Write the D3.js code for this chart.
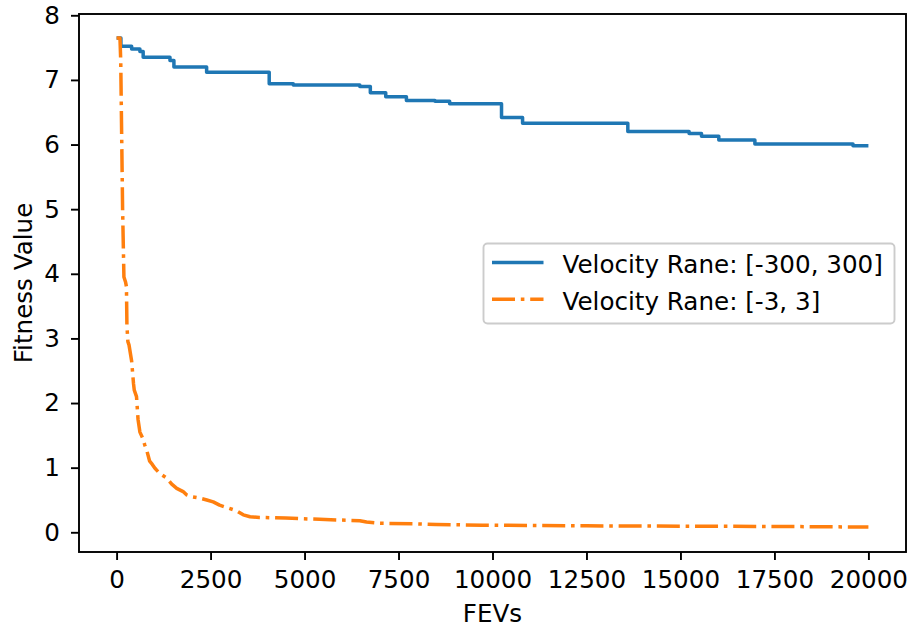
<!DOCTYPE html>
<html>
<head>
<meta charset="utf-8">
<script src="https://cdn.jsdelivr.net/npm/d3@7"></script>
<style>
  body { margin: 0; background: #fff; }
  svg { font-family: "DejaVu Sans", sans-serif; }
</style>
</head>
<body>
<div id="chart"></div>
<script>
// best-so-far fitness, wide velocity range (step changes: [FEVs, value])
const wideFevs = [0, 115, 400, 620, 707, 1420, 1525, 2395, 4060, 4700, 6470, 6750, 7160, 7710, 8470, 8860, 10240, 10800, 13600, 15230, 15560, 16020, 16980, 19590, 20000];
const wideFit  = [7.65, 7.52, 7.48, 7.44, 7.35, 7.30, 7.20, 7.12, 6.94, 6.92, 6.90, 6.80, 6.74, 6.68, 6.67, 6.63, 6.42, 6.33, 6.20, 6.17, 6.13, 6.07, 6.01, 5.98, 5.98];

// narrow velocity range
const narrowFevs = [0, 90, 110, 160, 195, 240, 262, 275, 300, 330, 400, 450, 470, 530, 570, 620, 700, 750, 810, 880, 950, 1020, 1150, 1330, 1460, 1600, 1770, 1860, 2000, 2200, 2400, 2570, 2740, 3000, 3200, 3370, 3550, 3800, 4500, 5400, 6470, 6650, 7000, 7980, 8500, 9740, 12500, 15000, 17500, 19000, 20000];
const narrowFit  = [7.65, 7.65, 7.3, 5.0, 3.95, 3.87, 3.8, 3.2, 2.95, 2.9, 2.65, 2.3, 2.2, 2.1, 1.75, 1.55, 1.45, 1.35, 1.25, 1.1, 1.05, 0.99, 0.91, 0.84, 0.75, 0.68, 0.63, 0.58, 0.55, 0.53, 0.5, 0.47, 0.42, 0.37, 0.33, 0.27, 0.24, 0.23, 0.22, 0.2, 0.18, 0.16, 0.14, 0.13, 0.12, 0.11, 0.10, 0.095, 0.09, 0.085, 0.08];

const seriesNames = ["Velocity Rane: [-300, 300]", "Velocity Rane: [-3, 3]"];
const xTicks = [0, 2500, 5000, 7500, 10000, 12500, 15000, 17500, 20000];
const yTicks = [0, 1, 2, 3, 4, 5, 6, 7, 8];

const width = 909, height = 626;
const margin = { top: 14, right: 3, bottom: 74, left: 79 };
const fontSize = 24.6;

const svg = d3.select("#chart").append("svg")
    .attr("width", width)
    .attr("height", height);

const x = d3.scaleLinear().domain([-1000, 21000]).range([margin.left, width - margin.right]);
const y = d3.scaleLinear().domain([-0.305, 8.02]).range([height - margin.bottom, margin.top]);

// axes
const xAxis = svg.append("g")
    .attr("transform", `translate(0, ${height - margin.bottom})`)
    .call(d3.axisBottom(x).tickValues(xTicks).tickSize(8).tickPadding(10.5).tickFormat(d3.format("d")));

const yAxis = svg.append("g")
    .attr("transform", `translate(${margin.left}, 0)`)
    .call(d3.axisLeft(y).tickValues(yTicks).tickSize(8).tickPadding(11).tickFormat(d3.format("d")));

[xAxis, yAxis].forEach(g => {
    g.select(".domain").remove();
    g.selectAll(".tick line").attr("stroke", "#000").attr("stroke-width", 1.9);
    g.selectAll(".tick text")
        .attr("fill", "#000")
        .style("font-size", fontSize + "px")
        .style("font-family", "DejaVu Sans, sans-serif");
});

// lines
const wideData = wideFevs.map((f, i) => [f, wideFit[i]]);
const narrowData = narrowFevs.map((f, i) => [f, narrowFit[i]]);

const stepLine = d3.line()
    .x(d => x(d[0]))
    .y(d => y(d[1]))
    .curve(d3.curveStepAfter);

const plainLine = d3.line()
    .x(d => x(d[0]))
    .y(d => y(d[1]));

const plot = svg.append("g");

plot.append("path")
    .datum(wideData)
    .attr("d", stepLine)
    .attr("fill", "none")
    .attr("stroke", "#1f77b4")
    .attr("stroke-width", 3.5)
    .attr("stroke-linejoin", "round");

plot.append("path")
    .datum(narrowData)
    .attr("d", plainLine)
    .attr("fill", "none")
    .attr("stroke", "#ff7f0e")
    .attr("stroke-width", 3.5)
    .attr("stroke-linejoin", "round")
    .attr("stroke-dasharray", "23,5.8,3.6,5.8");

// frame
svg.append("rect")
    .attr("x", margin.left)
    .attr("y", margin.top)
    .attr("width", width - margin.left - margin.right)
    .attr("height", height - margin.top - margin.bottom)
    .attr("fill", "none")
    .attr("stroke", "#000")
    .attr("stroke-width", 1.9);

// axis labels
svg.append("text")
    .attr("x", (margin.left + width - margin.right) / 2)
    .attr("y", 621.5)
    .attr("text-anchor", "middle")
    .style("font-size", fontSize + "px")
    .text("FEVs");

svg.append("text")
    .attr("transform", `translate(31.5, ${(margin.top + height - margin.bottom) / 2}) rotate(-90)`)
    .attr("text-anchor", "middle")
    .style("font-size", fontSize + "px")
    .text("Fitness Value");

// legend
const legend = svg.append("g").attr("transform", "translate(483.5, 243.5)");

legend.append("rect")
    .attr("width", 411)
    .attr("height", 80)
    .attr("rx", 4)
    .attr("fill", "#fff")
    .attr("fill-opacity", 0.8)
    .attr("stroke", "#cccccc")
    .attr("stroke-width", 1.9);

const legendItems = [
    { label: seriesNames[0], color: "#1f77b4", dash: null },
    { label: seriesNames[1], color: "#ff7f0e", dash: "23,5.8,3.6,5.8" }
];

legendItems.forEach((item, i) => {
    const g = legend.append("g").attr("transform", `translate(0, ${19 + i * 36.7})`);
    g.append("line")
        .attr("x1", 8.5)
        .attr("x2", 60)
        .attr("stroke", item.color)
        .attr("stroke-width", 3.5)
        .attr("stroke-dasharray", item.dash);
    g.append("text")
        .attr("x", 79)
        .attr("y", 10.5)
        .style("font-size", fontSize + "px")
        .attr("fill", "#000")
        .text(item.label);
});
</script>
</body>
</html>
